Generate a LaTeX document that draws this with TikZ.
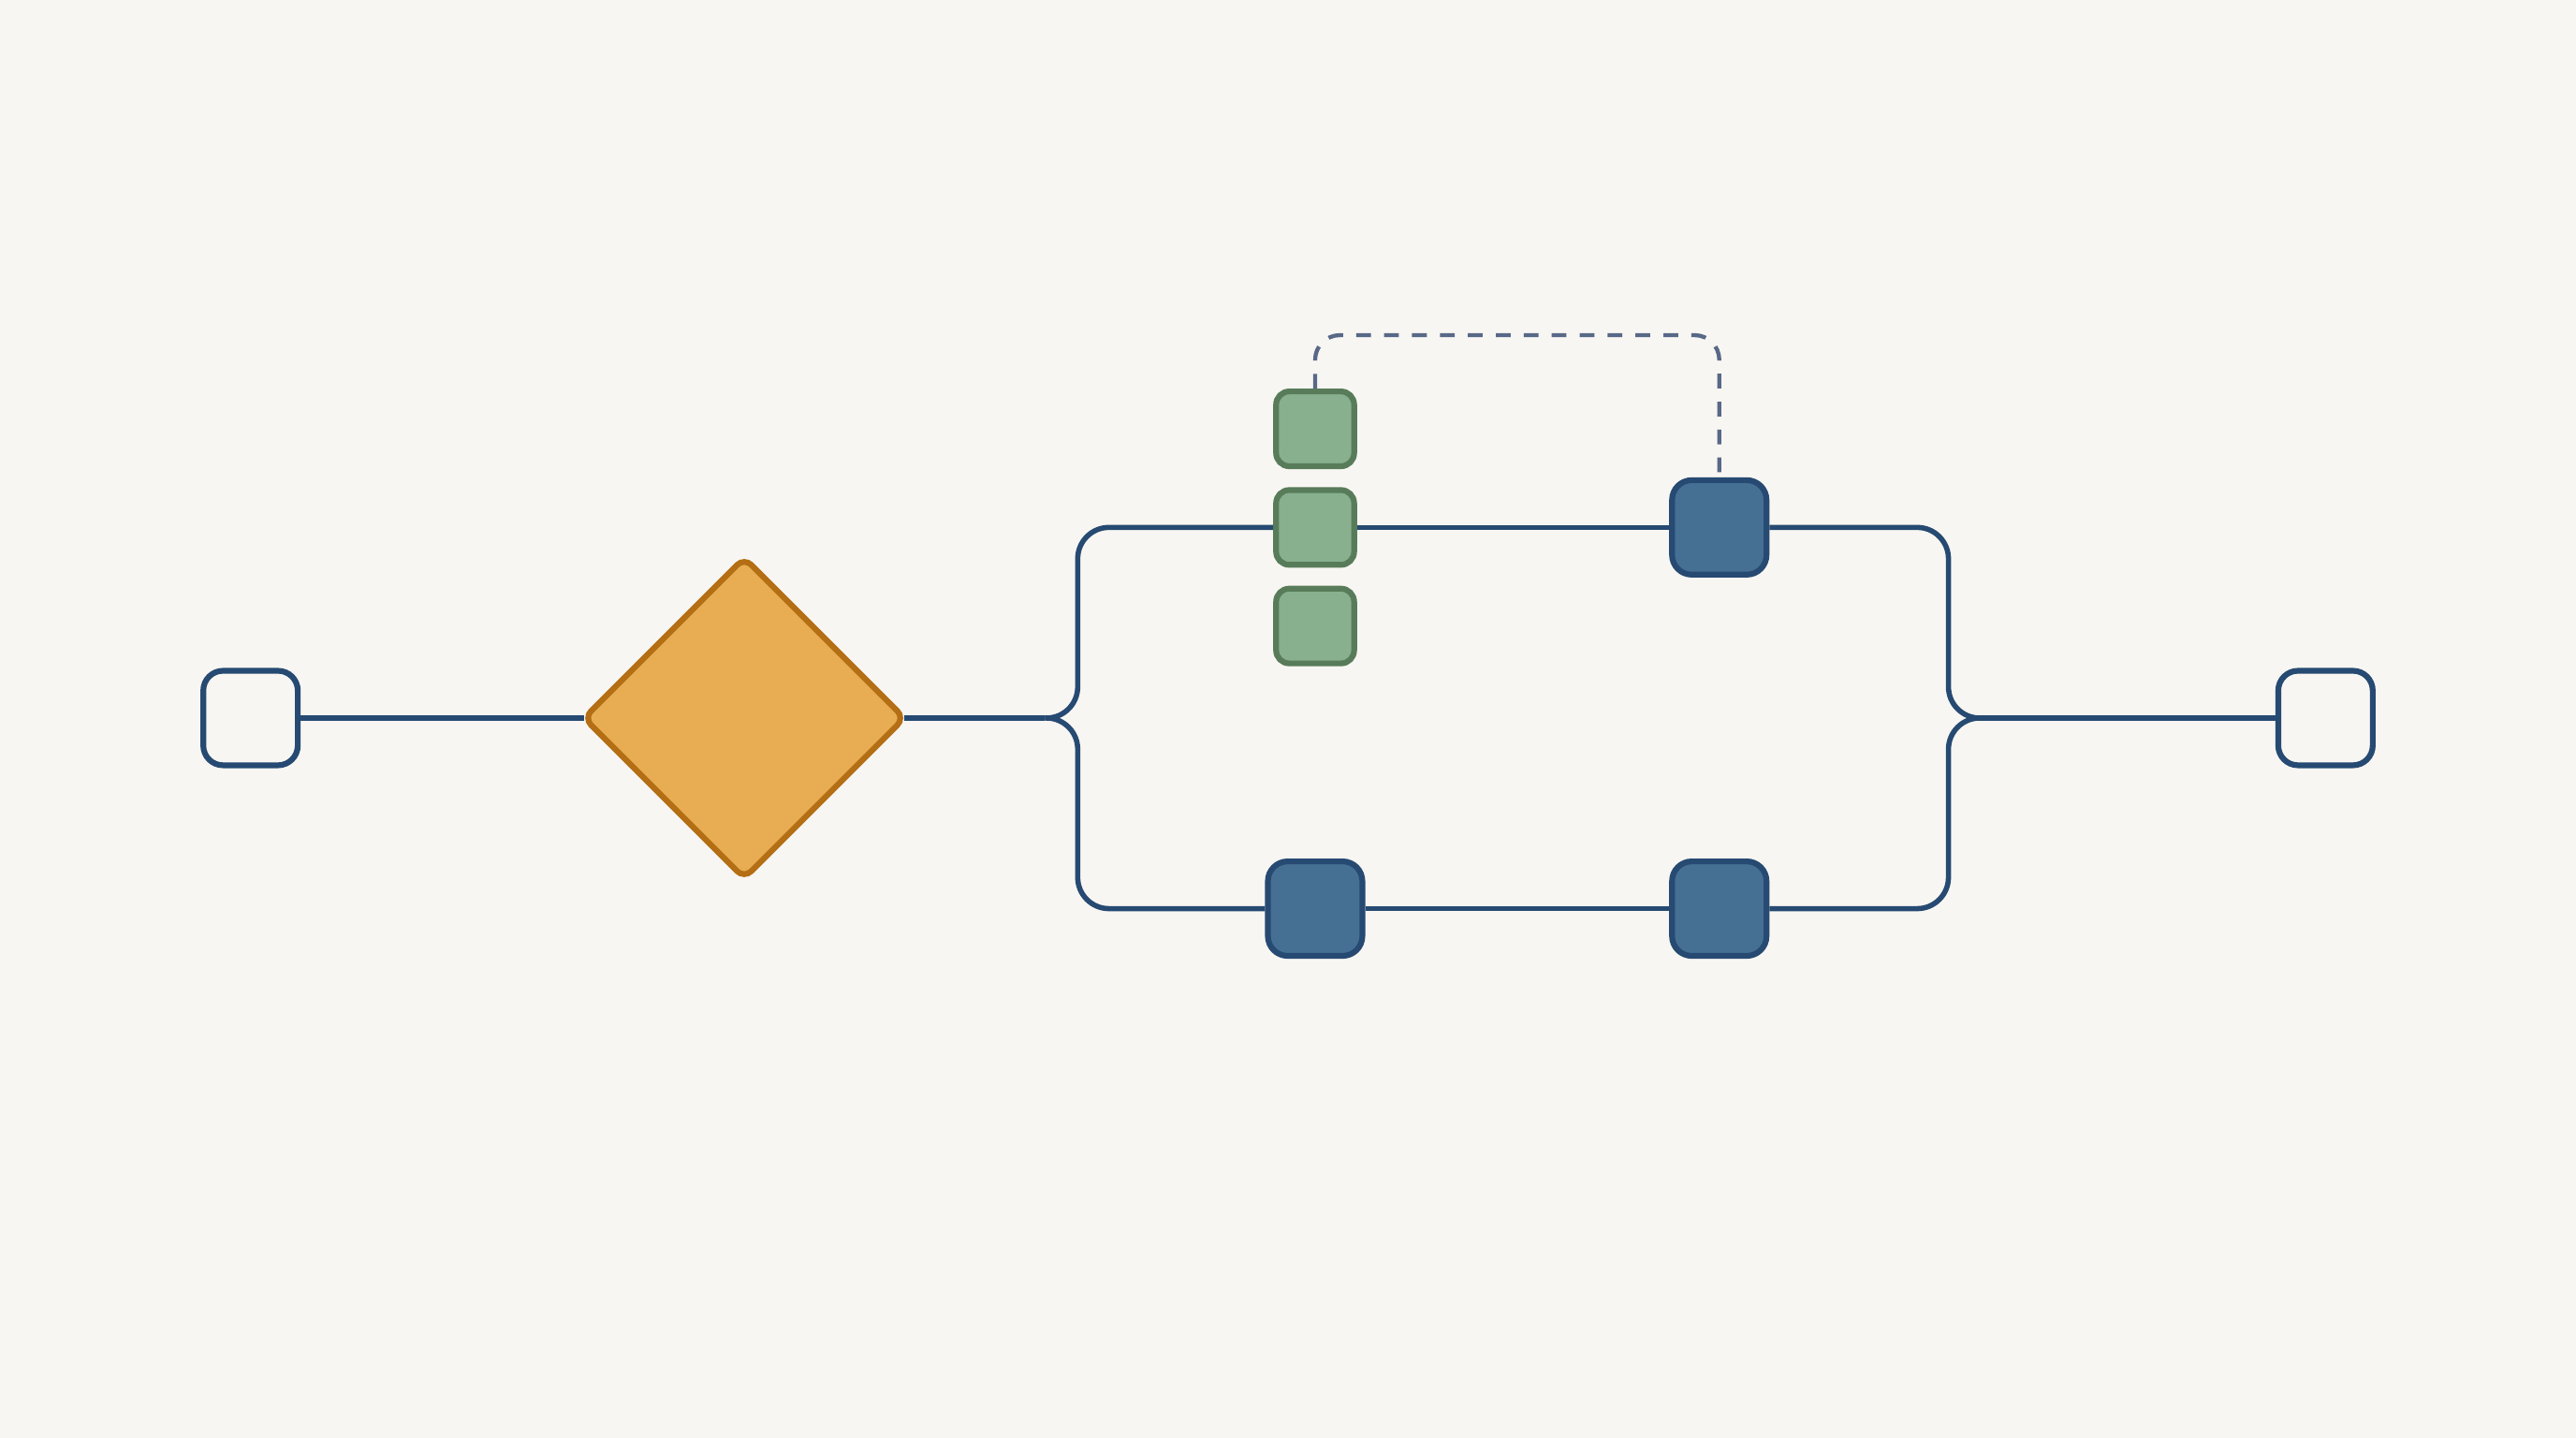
\documentclass[tikz,border=0pt]{standalone}
\usepackage{xcolor}
\usetikzlibrary{arrows.meta,shapes.geometric}

\definecolor{navy}{RGB}{38,74,114}
\definecolor{bluefill}{RGB}{70,111,148}
\definecolor{greenfill}{RGB}{136,176,142}
\definecolor{greenline}{RGB}{88,124,90}
\definecolor{orangefill}{RGB}{232,173,82}
\definecolor{orangeline}{RGB}{180,110,20}
\definecolor{dashcol}{RGB}{88,104,135}
\definecolor{bg}{RGB}{248,246,242}

\tikzset{
  flow/.style={navy, line width=1.8pt},
  box/.style={draw=navy, line width=2pt, fill=bg, rounded corners=0.24cm, minimum size=1.15cm, inner sep=0pt},
  bbox/.style={box, fill=bluefill},
  gbox/.style={draw=greenline, line width=2pt, fill=greenfill, rounded corners=0.16cm, minimum width=0.95cm, minimum height=0.91cm, inner sep=0pt},
  link/.style={dashcol, line width=1.4pt, dash pattern=on 0.18cm off 0.16cm, rounded corners=0.3cm}
}

\begin{document}
\begin{tikzpicture}
\fill[bg] (0,0) rectangle (31.36,17.5);
\useasboundingbox (0,0) rectangle (31.36,17.5);

\node[box] (start) at (3.05,8.76) {};
\node[diamond, draw=orangeline, fill=orangefill, line width=2pt, aspect=1, minimum size=3.9cm, inner sep=0pt, outer sep=0pt, rounded corners=0.12cm] (dec) at (9.06,8.76) {};

\coordinate (forkL) at (12.72,8.76);
\coordinate (forkLv) at (13.12,8.76);
\coordinate (forkRv) at (23.72,8.76);
\coordinate (forkR) at (24.10,8.76);

% upper branch
\node[gbox] (g1) at (16.01,12.28) {};
\node[gbox] (g2) at (16.01,11.08) {};
\node[gbox] (g3) at (16.01,9.88) {};
\node[bbox] (b1) at (20.93,11.08) {};

% lower branch
\node[bbox] (b2) at (16.01,6.44) {};
\node[bbox] (b3) at (20.93,6.44) {};

\node[box] (stop) at (28.31,8.76) {};

\draw[flow] (start) -- (dec);
\draw[flow] (dec) -- (forkL);
\draw[flow, rounded corners=0.38cm] (forkL) -- (forkLv) |- (g2.west);
\draw[flow, rounded corners=0.38cm] (forkL) -- (forkLv) |- (b2.west);
\draw[flow] (g2) -- (b1);
\draw[flow] (b2) -- (b3);
\draw[flow, rounded corners=0.38cm] (b1.east) -| (forkRv) -- (forkR);
\draw[flow, rounded corners=0.38cm] (b3.east) -| (forkRv) -- (forkR);
\draw[flow] (forkR) -- (stop);

\coordinate (dashtop) at (18.5,13.42);
\draw[link] (g1.north) |- (dashtop) -| (b1.north);
\end{tikzpicture}
\end{document}
